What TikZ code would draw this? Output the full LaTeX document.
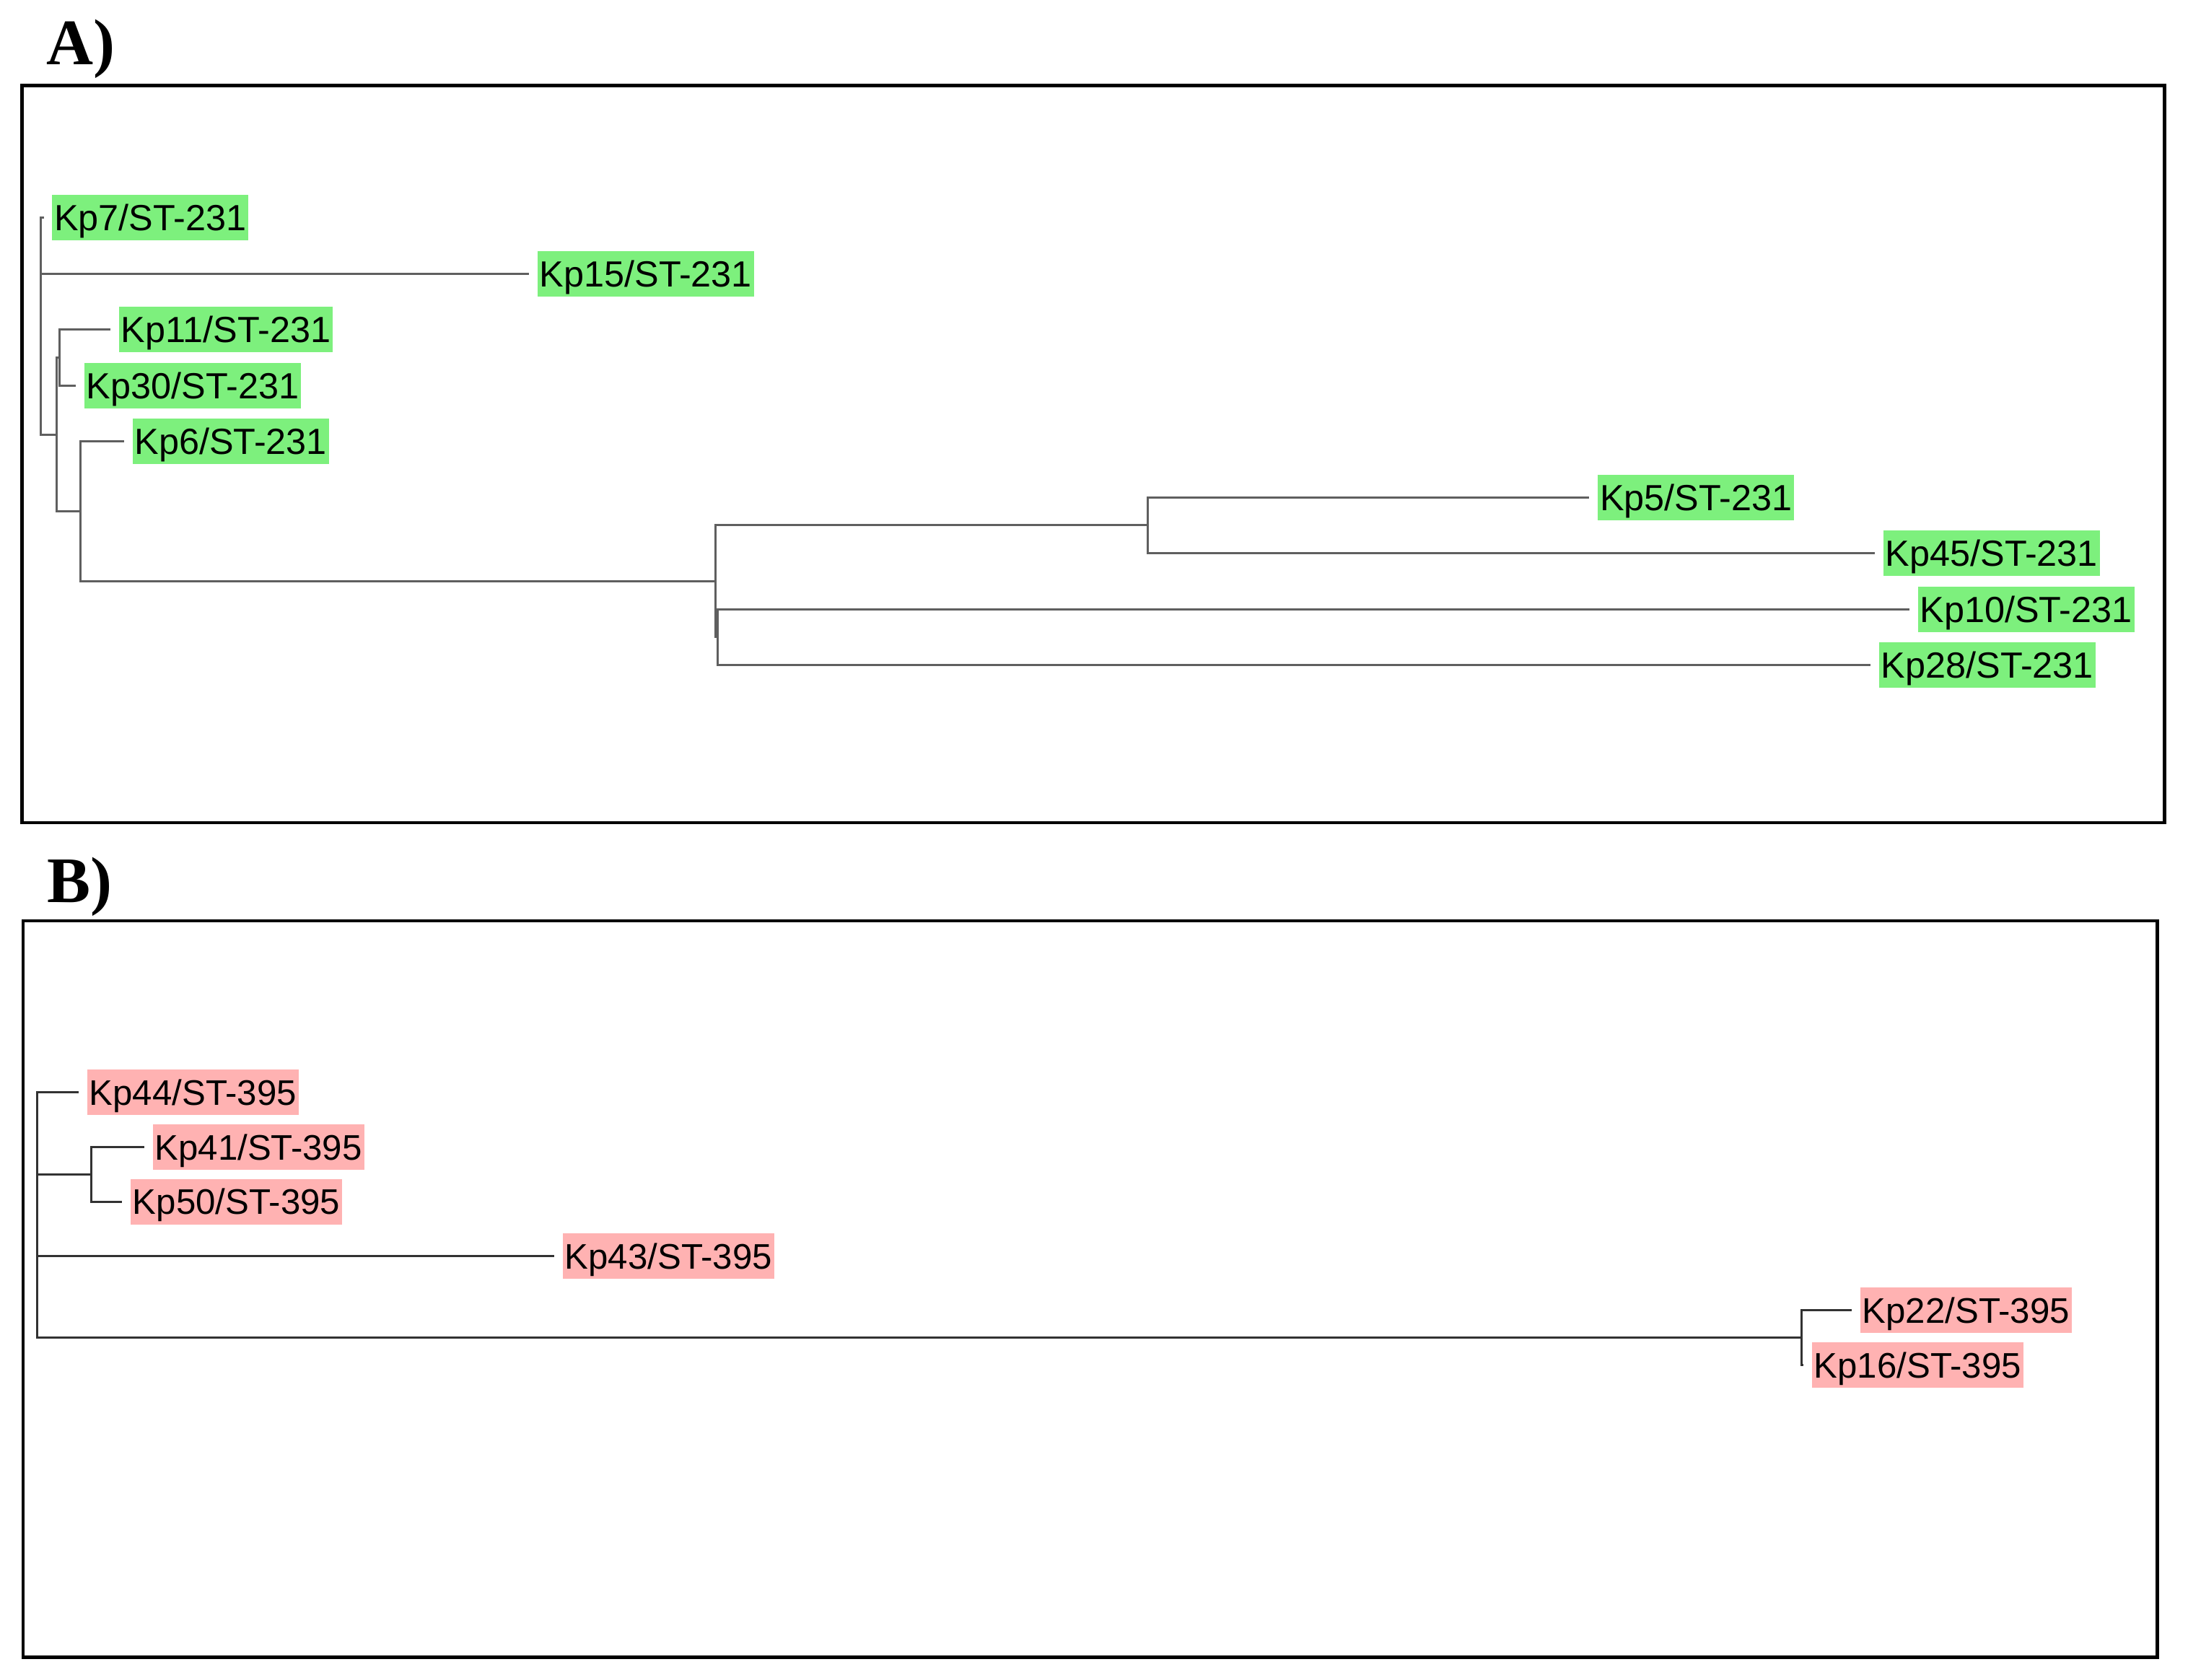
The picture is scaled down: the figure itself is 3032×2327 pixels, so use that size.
\documentclass[tikz,border=0pt]{standalone}
\usepackage{fontspec}
\setmainfont{Liberation Serif}
\newfontfamily\arialf{Liberation Sans}
\definecolor{lgreen}{RGB}{125,240,125}
\definecolor{lpink}{RGB}{255,178,178}
\definecolor{brA}{RGB}{95,95,95}
\definecolor{brB}{RGB}{50,50,50}
\tikzset{
  frame/.style={draw=black, line width=4.5pt},
  panel/.style={anchor=base west, inner sep=0pt, font=\fontsize{90}{100}\selectfont\bfseries},
  lab/.style={anchor=west, inner xsep=3pt, inner ysep=0pt, minimum height=63pt, text depth=0pt, xshift=11.5pt},
  ga/.style={lab, fill=lgreen, text height=36.3pt, font=\arialf\fontsize{50.4}{60}\selectfont},
  pb/.style={lab, fill=lpink, text height=35.4pt, font=\arialf\fontsize{49.2}{59}\selectfont},
  bra/.style={draw=brA, line width=3pt},
  brb/.style={draw=brB, line width=3pt}
}
\begin{document}
\begin{tikzpicture}[x=1pt,y=-1pt]
\useasboundingbox (0,0) rectangle (3032,2327);
% panel letters
\node[panel] (lA) at (64,89) {A)};
\node[panel] (lB) at (65,1250) {B)};
% frames
\draw[frame] (30.6,118.5) rectangle (2999.3,1140);
\draw[frame] (32,1276) rectangle (2989.3,2296.7);
% ---------- panel A tree ----------
\coordinate (RA) at (56.6,451.85);
\coordinate (t7) at (60.5,301.7);
\coordinate (t15) at (733,379.2);
\coordinate (N2) at (78.5,602);
\coordinate (C1) at (82.3,495.45);
\coordinate (t11) at (153,456.7);
\coordinate (t30) at (105.2,534.2);
\coordinate (C3) at (111,708.6);
\coordinate (t6) at (172,611.7);
\coordinate (C4) at (991.8,805.45);
\coordinate (C5) at (1590.6,727.95);
\coordinate (t5) at (2202.3,689.2);
\coordinate (t45) at (2598,766.7);
\coordinate (C6) at (994.7,882.95);
\coordinate (t10) at (2645.8,844.2);
\coordinate (t28) at (2592,921.7);
\draw[bra] (RA) |- (t7);
\draw[bra] (RA) |- (t15);
\draw[bra] (RA) |- (N2);
\draw[bra] (N2) |- (C1);
\draw[bra] (N2) |- (C3);
\draw[bra] (C1) |- (t11);
\draw[bra] (C1) |- (t30);
\draw[bra] (C3) |- (t6);
\draw[bra] (C3) |- (C4);
\draw[bra] (C4) |- (C5);
\draw[bra] (C4) |- (C6);
\draw[bra] (C5) |- (t5);
\draw[bra] (C5) |- (t45);
\draw[bra] (C6) |- (t10);
\draw[bra] (C6) |- (t28);
\node[ga] (n7) at (t7) {Kp7/ST-231};
\node[ga] (n15) at (t15) {Kp15/ST-231};
\node[ga] (n11) at (t11) {Kp11/ST-231};
\node[ga] (n30) at (t30) {Kp30/ST-231};
\node[ga] (n6) at (t6) {Kp6/ST-231};
\node[ga] (n5) at (t5) {Kp5/ST-231};
\node[ga] (n45) at (t45) {Kp45/ST-231};
\node[ga] (n10) at (t10) {Kp10/ST-231};
\node[ga] (n28) at (t28) {Kp28/ST-231};
% ---------- panel B tree ----------
\coordinate (RB) at (51.7,1683.3);
\coordinate (t44) at (109,1513.3);
\coordinate (D1) at (126.3,1627.2);
\coordinate (t41) at (199.8,1589.3);
\coordinate (t50) at (169.2,1665);
\coordinate (t43) at (768,1740.7);
\coordinate (D7) at (2496.7,1853.3);
\coordinate (t22) at (2566,1815.5);
\coordinate (t16) at (2499,1891.5);
\draw[brb] (RB) |- (t44);
\draw[brb] (RB) |- (D1);
\draw[brb] (RB) |- (t43);
\draw[brb] (RB) |- (D7);
\draw[brb] (D1) |- (t41);
\draw[brb] (D1) |- (t50);
\draw[brb] (D7) |- (t22);
\draw[brb] (D7) |- (t16);
\node[pb] (m44) at (t44) {Kp44/ST-395};
\node[pb] (m41) at (t41) {Kp41/ST-395};
\node[pb] (m50) at (t50) {Kp50/ST-395};
\node[pb] (m43) at (t43) {Kp43/ST-395};
\node[pb] (m22) at (t22) {Kp22/ST-395};
\node[pb] (m16) at (t16) {Kp16/ST-395};
\end{tikzpicture}
\end{document}
